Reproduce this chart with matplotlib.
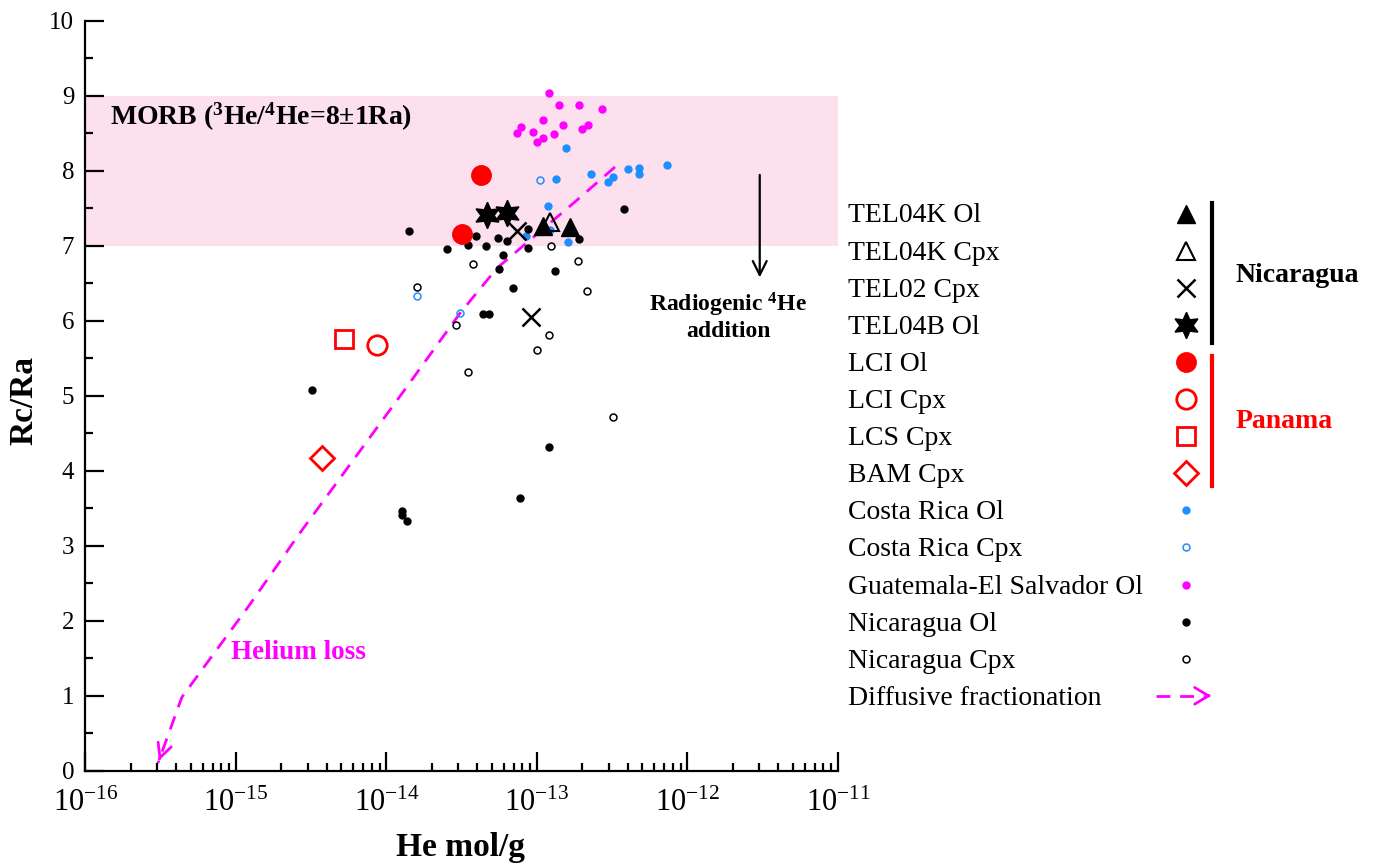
import matplotlib.pyplot as plt
import numpy as np
from matplotlib.ticker import LogLocator, MultipleLocator

plt.rcParams['font.family'] = 'Liberation Serif'
plt.rcParams['mathtext.fontset'] = 'custom'
plt.rcParams['mathtext.rm'] = 'Liberation Serif'
plt.rcParams['mathtext.it'] = 'Liberation Serif:italic'
plt.rcParams['mathtext.bf'] = 'Liberation Serif:bold'

# He (mol/g) and Rc/Ra
gua_he = [1.20e-13, 1.40e-13, 1.90e-13, 2.69e-13, 7.80e-14, 7.36e-14, 1.10e-13,
          1.50e-13, 9.35e-14, 1.29e-13, 1.10e-13, 9.95e-14, 2.19e-13, 2.00e-13]
gua_r = [9.04, 8.87, 8.87, 8.82, 8.58, 8.50, 8.67, 8.61, 8.52, 8.49, 8.43, 8.38, 8.61, 8.56]

cr_ol_he = [1.56e-13, 1.34e-13, 2.30e-13, 2.95e-13, 3.21e-13, 4.03e-13, 4.76e-13,
            4.76e-13, 7.31e-13, 1.19e-13, 1.61e-13, 8.45e-14, 1.22e-13]
cr_ol_r = [8.30, 7.89, 7.95, 7.85, 7.91, 8.02, 8.03, 7.96, 8.07, 7.53, 7.05, 7.13, 7.21]

cr_cpx_he = [1.05e-13, 1.59e-14, 3.08e-14]
cr_cpx_r = [7.87, 6.33, 6.10]

nic_ol_he = [3.78e-13, 1.42e-14, 3.93e-14, 3.50e-14, 2.51e-14, 4.58e-14, 5.53e-14,
             6.29e-14, 8.65e-14, 8.65e-14, 5.92e-14, 1.90e-13, 5.55e-14, 1.32e-13,
             6.95e-14, 4.40e-14, 4.82e-14, 3.21e-15, 1.20e-13, 7.74e-14, 1.27e-14,
             1.26e-14, 1.36e-14]
nic_ol_r = [7.49, 7.20, 7.13, 7.01, 6.95, 7.00, 7.10, 7.06, 7.22, 6.97, 6.88, 7.09,
            6.69, 6.66, 6.43, 6.09, 6.09, 5.07, 4.32, 3.63, 3.46, 3.41, 3.33]

nic_cpx_he = [3.74e-14, 1.24e-13, 1.88e-13, 1.59e-14, 2.14e-13, 2.90e-14, 1.21e-13,
              9.95e-14, 3.50e-14, 3.18e-13]
nic_cpx_r = [6.75, 7.00, 6.79, 6.45, 6.40, 5.94, 5.81, 5.61, 5.31, 4.72]

tel04k_ol_he = [1.10e-13, 1.66e-13]
tel04k_ol_r = [7.26, 7.25]
tel04k_cpx_he = [1.22e-13]
tel04k_cpx_r = [7.31]
tel02_cpx_he = [7.33e-14, 9.08e-14]
tel02_cpx_r = [7.20, 6.05]
tel04b_ol_he = [4.69e-14, 6.29e-14]
tel04b_ol_r = [7.41, 7.43]
lci_ol_he = [4.23e-14, 3.16e-14]
lci_ol_r = [7.94, 7.16]
lci_cpx_he = [8.69e-15]
lci_cpx_r = [5.68]
lcs_cpx_he = [5.22e-15]
lcs_cpx_r = [5.75]
bam_cpx_he = [3.71e-15]
bam_cpx_r = [4.17]

# diffusive fractionation trend (top to bottom, arrow at the end)
diff_he = [3.30e-13, 1.85e-13, 5.42e-14, 3.08e-14, 1.29e-14, 2.66e-15, 1.22e-15, 4.37e-16, 3.03e-16]
diff_r = [8.05, 7.61, 6.70, 6.10, 5.05, 3.17, 2.20, 0.98, 0.10]

BLUE = '#1e8fff'
MAG = '#ff00ff'
RED = '#ff0000'
STAR6 = (6, 1, 0)

fig = plt.figure(figsize=(13.74, 8.65), dpi=100)
ax = fig.add_axes([0.0622, 0.109, 0.5477, 0.8671])
ax.set_xscale('log')
ax.set_xlim(1e-16, 1e-11)
ax.set_ylim(0, 10)

# MORB band
ax.axhspan(7, 9, color='#fde0ee', lw=0, zorder=0)

# diffusive fractionation line
ax.plot(diff_he, diff_r, color=MAG, lw=2, ls=(0, (5, 3.5)), zorder=2)
# small arrow head at the end of the line
lx = np.log10(diff_he[-2:])
t_he = 10 ** (lx[1] + 0.1 * (lx[0] - lx[1]))
t_r = diff_r[-1] + 0.1 * (diff_r[-2] - diff_r[-1])
ax.annotate('', xy=(diff_he[-1], diff_r[-1]), xytext=(t_he, t_r),
            arrowprops=dict(arrowstyle='->, head_length=0.5, head_width=0.25',
                            color=MAG, lw=2, mutation_scale=20))

# small symbols
ax.plot(gua_he, gua_r, ls='none', marker='o', ms=5, color=MAG, mec=MAG, zorder=3)
ax.plot(cr_ol_he, cr_ol_r, ls='none', marker='o', ms=5, color=BLUE, mec=BLUE, zorder=3)
ax.plot(cr_cpx_he, cr_cpx_r, ls='none', marker='o', ms=5, mfc='none', mec=BLUE, mew=1.1, zorder=3)
ax.plot(nic_ol_he, nic_ol_r, ls='none', marker='o', ms=5, color='black', zorder=3)
ax.plot(nic_cpx_he, nic_cpx_r, ls='none', marker='o', ms=5, mfc='none', mec='black', mew=1.1, zorder=3)

# this study
ax.plot(tel04k_ol_he, tel04k_ol_r, ls='none', marker='^', ms=13, color='black', zorder=5)
ax.plot(tel04k_cpx_he, tel04k_cpx_r, ls='none', marker='^', ms=13, mfc='none', mec='black', mew=1.5, zorder=5)
ax.plot(tel02_cpx_he, tel02_cpx_r, ls='none', marker='x', ms=13, mec='black', mew=1.8, zorder=5)
ax.plot(tel04b_ol_he, tel04b_ol_r, ls='none', marker=STAR6, ms=19, color='black', zorder=5)
ax.plot(lci_ol_he, lci_ol_r, ls='none', marker='o', ms=14, color=RED, zorder=5)
ax.plot(lci_cpx_he, lci_cpx_r, ls='none', marker='o', ms=14, mfc='none', mec=RED, mew=2, zorder=5)
ax.plot(lcs_cpx_he, lcs_cpx_r, ls='none', marker='s', ms=13, mfc='none', mec=RED, mew=2, zorder=5)
ax.plot(bam_cpx_he, bam_cpx_r, ls='none', marker='D', ms=12, mfc='none', mec=RED, mew=2, zorder=5)

# annotations
ax.text(10 ** -15.84, 8.72, r'MORB ($^{\mathbf{3}}$He/$^{\mathbf{4}}$He=8±1Ra)',
        fontsize=20, fontweight='bold', va='center')
ax.annotate('', xy=(10 ** -11.52, 6.54), xytext=(10 ** -11.52, 7.98),
            arrowprops=dict(arrowstyle='->, head_length=0.5, head_width=0.25',
                            color='black', lw=1.6, mutation_scale=20))
ax.text(10 ** -11.73, 6.06, 'Radiogenic $^{\\mathbf{4}}$He\naddition', fontsize=17,
        fontweight='bold', ha='center', va='center', multialignment='center',
        linespacing=1.15)
ax.text(10 ** -15.03, 1.58, 'Helium loss', fontsize=19.5, fontweight='bold',
        color=MAG, va='center')

# axes styling
for s in ['top', 'right']:
    ax.spines[s].set_visible(False)
for s in ['left', 'bottom']:
    ax.spines[s].set_linewidth(1.6)
ax.xaxis.set_major_locator(LogLocator(base=10, numticks=10))
ax.xaxis.set_minor_locator(LogLocator(base=10, subs=np.arange(2, 10), numticks=20))
ax.yaxis.set_major_locator(MultipleLocator(1))
ax.yaxis.set_minor_locator(MultipleLocator(0.5))
ax.tick_params(which='both', direction='in', width=1.6, top=False, right=False)
ax.tick_params(which='major', length=14)
ax.tick_params(which='minor', length=5.5)
ax.tick_params(axis='y', pad=8, labelsize=18)
ax.tick_params(axis='x', pad=13, labelsize=22)
ax.set_xlabel('He mol/g', fontsize=24, fontweight='bold')
ax.set_ylabel('Rc/Ra', fontsize=24, fontweight='bold')
ax.xaxis.set_label_coords(0.499, -0.082)
ax.yaxis.set_label_coords(-0.061, 0.494)

# legend drawn by hand on an overlay in pixel units
leg_labels = ['TEL04K Ol', 'TEL04K Cpx', 'TEL02 Cpx', 'TEL04B Ol', 'LCI Ol', 'LCI Cpx',
              'LCS Cpx', 'BAM Cpx', 'Costa Rica Ol', 'Costa Rica Cpx',
              'Guatemala-El Salvador Ol', 'Nicaragua Ol', 'Nicaragua Cpx',
              'Diffusive fractionation']
leg_styles = [
    dict(marker='^', ms=13, color='black'),
    dict(marker='^', ms=13, mfc='none', mec='black', mew=1.5),
    dict(marker='x', ms=13, mec='black', mew=1.8),
    dict(marker=STAR6, ms=19, color='black'),
    dict(marker='o', ms=14, color=RED),
    dict(marker='o', ms=14, mfc='none', mec=RED, mew=2),
    dict(marker='s', ms=13, mfc='none', mec=RED, mew=2),
    dict(marker='D', ms=12, mfc='none', mec=RED, mew=2),
    dict(marker='o', ms=5, color=BLUE),
    dict(marker='o', ms=5, mfc='none', mec=BLUE, mew=1.1),
    dict(marker='o', ms=5, color=MAG),
    dict(marker='o', ms=5, color='black'),
    dict(marker='o', ms=5, mfc='none', mec='black', mew=1.1),
]

lax = fig.add_axes([0, 0, 1, 1])
lax.set_xlim(0, 1374)
lax.set_ylim(865, 0)
lax.axis('off')

row0, dy = 213.5, 37.1
for i, lab in enumerate(leg_labels):
    yy = row0 + dy * i
    lax.text(848, yy + 9, lab, fontsize=20, va='baseline', ha='left')
    if i < len(leg_styles):
        lax.plot([1186], [yy], ls='none', **leg_styles[i])
    else:
        lax.plot([1156, 1205], [yy, yy], color=MAG, lw=2, ls=(0, (5, 3.5)))
        lax.annotate('', xy=(1214, yy), xytext=(1205, yy),
                     arrowprops=dict(arrowstyle='->, head_length=0.5, head_width=0.3',
                                     color=MAG, lw=2, mutation_scale=20))

lax.plot([1212, 1212], [203, 343], color='black', lw=3)
lax.plot([1212, 1212], [356, 486], color=RED, lw=3)
lax.text(1236, 275, 'Nicaragua', fontsize=20, fontweight='bold', va='center')
lax.text(1236, 421, 'Panama', fontsize=20, fontweight='bold', va='center', color=RED)

fig.savefig('out.png', dpi=100)
